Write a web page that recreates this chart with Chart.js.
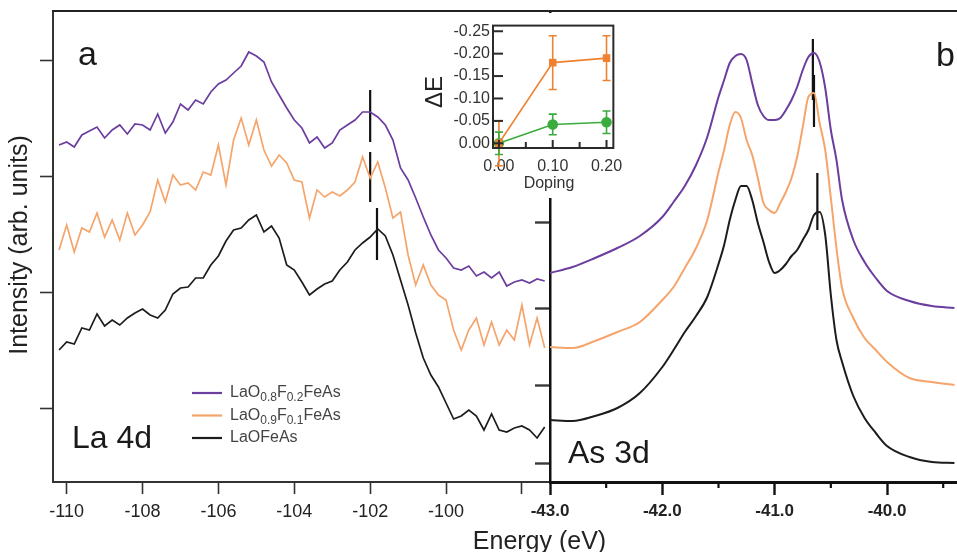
<!DOCTYPE html>
<html>
<head>
<meta charset="utf-8">
<script src="https://cdn.jsdelivr.net/npm/chart.js@4.4.1/dist/chart.umd.min.js"></script>
<style>
  html, body { margin: 0; padding: 0; background: #fff; }
  #wrap { position: relative; width: 957px; height: 552px; overflow: hidden; background: #fff; }
  canvas { position: absolute; }
  #cA { left: 0; top: 0; }
  #cB { left: 440px; top: 0; }
  #cC { left: 422px; top: 13px; background: #fff; }
</style>
</head>
<body>
<div id="wrap">
  <canvas id="cA" width="560" height="552"></canvas>
  <canvas id="cB" width="517" height="552"></canvas>
  <canvas id="cC" width="210" height="185"></canvas>
</div>
<script>
// === Data: panel a (La 4d) ===
const energyA = [-110.2,-110.0,-109.8,-109.6,-109.4,-109.2,-109.0,-108.8,-108.6,-108.4,-108.2,-108.0,-107.8,-107.6,-107.4,-107.2,-107.0,-106.8,-106.6,-106.4,-106.2,-106.0,-105.8,-105.6,-105.4,-105.2,-105.0,-104.8,-104.6,-104.4,-104.2,-104.0,-103.8,-103.6,-103.4,-103.2,-103.0,-102.8,-102.6,-102.4,-102.2,-102.0,-101.8,-101.6,-101.4,-101.2,-101.0,-100.8,-100.6,-100.4,-100.2,-100.0,-99.8,-99.6,-99.4,-99.2,-99.0,-98.8,-98.6,-98.4,-98.2,-98.0,-97.8,-97.6,-97.4];
const purpleA = [337,340,335,347,351,355,344,352,357,348,358,357,352,368,349,360,378,372,382,378,390,398,402,409,416,430,426,420,400,387,374,362,354,339,345,334,339,352,357,362,370,370,365,357,342,314,302,284,265,247,232,224,214,212,216,206,210,204,210,196,200,202,199,203,201];
const orangeA = [232,257,230,254,250,269,245,262,242,269,247,257,270,302,280,307,297,299,292,310,307,337,297,342,364,337,362,332,316,327,319,302,300,264,292,285,290,286,292,300,325,304,320,294,264,270,227,197,217,197,187,182,152,132,152,164,137,160,137,152,142,177,137,164,134];
const blackA = [132,140,138,154,152,168,156,162,157,164,169,173,167,164,172,188,194,195,204,204,217,226,241,252,254,262,267,250,256,244,217,212,200,187,193,198,201,212,220,232,239,245,253,246,227,202,177,149,124,107,95,79,63,66,72,66,52,68,52,50,54,56,52,44,55];
const markerEA = [-102.0, -102.0, -101.82];
const markerLoA = [340, 280, 222];
const markerHiA = [392, 330, 274];
const xTicksA = [-110, -108, -106, -104, -102, -100, -98];
const xLabelsA = ["-110", "-108", "-106", "-104", "-102", "-100", ""];
const yTicksA = [74, 190, 306, 421];

// === Data: panel b (As 3d) ===
const energyB = [-43.0,-42.8,-42.6,-42.4,-42.2,-42.0,-41.9,-41.8,-41.7,-41.6,-41.5,-41.45,-41.4,-41.35,-41.3,-41.25,-41.2,-41.15,-41.1,-41.05,-41.0,-40.95,-40.9,-40.85,-40.8,-40.75,-40.7,-40.65,-40.6,-40.55,-40.5,-40.45,-40.4,-40.3,-40.2,-40.1,-40.0,-39.8,-39.6,-39.4];
const purpleB = [209,215,224,234,246,265,280,296,317,345,385,402,419,426,428,422,399,377,366,362,362,364,372,382,395,412,425,429,420,394,352,322,282,242,220,204,191,181,176,174];
const orangeB = [135,134,141,150,160,182,195,214,234,262,310,332,357,370,364,342,327,304,279,272,269,279,290,304,325,355,385,389,359,332,284,234,194,164,144,132,120,104,100,97];
const blackB = [62,61,66,74,89,115,132,150,166,185,218,237,262,282,296,296,282,259,240,220,209,212,218,226,232,242,252,267,270,247,187,142,120,86,64,49,36,25,20,19];
const markerEB = [-40.66, -40.65, -40.62];
const markerLoB = [382, 355, 252];
const markerHiB = [443, 407, 309];
const xTicksB = [-43, -42, -41, -40];
const xLabelsB = ["-43.0", "-42.0", "-41.0", "-40.0"];
const xMinorB = [-42.5, -41.5, -40.5, -39.5];
const yTicksB = [19, 97, 174, 260];

// === Data: inset (shift vs doping) ===
const doping = [0.0, 0.1, 0.2];
const shiftOrange = [0.0, -0.18, -0.19];
const errOrange = [0.05, 0.06, 0.05];
const shiftGreen = [0.0, -0.042, -0.047];
const errGreen = [0.025, 0.023, 0.025];
const yTicksC = [-0.25, -0.2, -0.15, -0.1, -0.05, 0];
const xTicksC = [0, 0.1, 0.2];
const xLabelsC = ["0.00", "0.10", "0.20"];
const xMinorC = [0.05, 0.15];

const labels = ["LaO_{0.8}F_{0.2}FeAs", "LaO_{0.9}F_{0.1}FeAs", "LaOFeAs"];

const PURPLE = "#6b3d9e";
const ORANGE = "#f5a56c";
const BLACK = "#1c1c1c";
const ORANGE_I = "#ef8230";
const GREEN_I = "#3aab3c";
const FONT = "'Liberation Sans', Arial, Helvetica, sans-serif";

Chart.defaults.font.family = FONT;
Chart.defaults.color = "#222";

const pts = (xs, ys) => xs.map((x, i) => ({ x, y: ys[i] }));

function curve(xs, ys, color, label, width, smooth) {
  const ds = { label, data: pts(xs, ys), borderColor: color, backgroundColor: color,
    borderWidth: width, pointRadius: 0, showLine: true, tension: 0 };
  if (smooth) ds.cubicInterpolationMode = "monotone";
  return ds;
}

function markers(es, los, his) {
  return es.map((e, i) => ({ label: "", data: [{ x: e, y: los[i] }, { x: e, y: his[i] }],
    borderColor: "#111", borderWidth: 2.2, pointRadius: 0, showLine: true }));
}

// text with _{sub} parts
function drawRich(ctx, str, x, y, size) {
  const parts = str.split(/_\{([^}]*)\}/);
  parts.forEach((p, i) => {
    const sub = i % 2 === 1;
    ctx.font = (sub ? Math.round(size * 0.75) : size) + "px " + FONT;
    ctx.fillText(p, x, sub ? y + size * 0.3 : y);
    x += ctx.measureText(p).width;
  });
}

// === Decorations: frame lines, extra ticks, error bars, texts, legend ===
const decor = {
  id: "decor",
  beforeDatasetsDraw(chart, args, opts) {
    const ctx = chart.ctx;
    (opts.errors || []).forEach((eb) => {
      const ds = chart.data.datasets[eb.ds];
      const xs = chart.scales.x, ys = chart.scales.y;
      ctx.save();
      ctx.strokeStyle = ds.borderColor;
      ctx.lineWidth = 1.6;
      ds.data.forEach((p, i) => {
        const px = xs.getPixelForValue(p.x);
        const y1 = ys.getPixelForValue(p.y - eb.err[i]);
        const y2 = ys.getPixelForValue(p.y + eb.err[i]);
        ctx.beginPath();
        ctx.moveTo(px, y1); ctx.lineTo(px, y2);
        ctx.moveTo(px - 4, y1); ctx.lineTo(px + 4, y1);
        ctx.moveTo(px - 4, y2); ctx.lineTo(px + 4, y2);
        ctx.stroke();
      });
      ctx.restore();
    });
  },
  afterDraw(chart, args, opts) {
    const ctx = chart.ctx, a = chart.chartArea;
    ctx.save();
    if (opts.topLine) {
      ctx.strokeStyle = "#222"; ctx.lineWidth = 2;
      ctx.beginPath(); ctx.moveTo(a.left - 1, a.top); ctx.lineTo(a.right, a.top); ctx.stroke();
    }
    if (opts.box) {
      ctx.strokeStyle = "#2a2a2a"; ctx.lineWidth = 2;
      ctx.strokeRect(a.left, a.top, a.right - a.left, a.bottom - a.top);
    }
    (opts.ticks || []).forEach((t) => {
      const sc = chart.scales[t.axis];
      ctx.strokeStyle = t.color; ctx.lineWidth = t.width;
      t.values.forEach((v) => {
        const p = sc.getPixelForValue(v);
        ctx.beginPath();
        if (t.axis === "x") {
          const y0 = a.bottom;
          ctx.moveTo(p, y0); ctx.lineTo(p, t.inward ? y0 - t.len : y0 + t.len);
        } else {
          ctx.moveTo(a.left, p); ctx.lineTo(a.left + t.len, p);
        }
        ctx.stroke();
      });
    });
    (opts.texts || []).forEach((t) => {
      ctx.save();
      ctx.fillStyle = t.color || "#1a1a1a";
      ctx.font = (t.weight || "normal") + " " + t.size + "px " + FONT;
      ctx.textAlign = t.align || "left";
      ctx.textBaseline = t.baseline || "alphabetic";
      ctx.translate(t.x, t.y);
      if (t.rot) ctx.rotate(t.rot * Math.PI / 180);
      ctx.fillText(t.text, 0, 0);
      ctx.restore();
    });
    if (opts.legend) {
      const lg = opts.legend;
      ctx.textBaseline = "middle";
      ctx.textAlign = "left";
      chart.data.datasets.slice(0, 3).forEach((ds, i) => {
        const y = lg.y + i * lg.dy;
        ctx.strokeStyle = ds.borderColor; ctx.lineWidth = 2.2;
        ctx.beginPath(); ctx.moveTo(lg.x, y); ctx.lineTo(lg.x + lg.len, y); ctx.stroke();
        ctx.fillStyle = "#444";
        drawRich(ctx, ds.label, lg.x + lg.len + 8, y, lg.size);
      });
    }
    ctx.restore();
  }
};
Chart.register(decor);

const common = {
  responsive: false,
  animation: false,
  events: [],
};

// === Panel a ===
new Chart(document.getElementById("cA"), {
  type: "scatter",
  data: {
    datasets: [
      curve(energyA, purpleA, PURPLE, labels[0], 1.7),
      curve(energyA, orangeA, ORANGE, labels[1], 1.7),
      curve(energyA, blackA, BLACK, labels[2], 1.7),
      ...markers(markerEA, markerLoA, markerHiA),
    ],
  },
  options: {
    ...common,
    layout: { padding: { left: 0, right: 10, top: 11, bottom: 0 } },
    plugins: {
      legend: { display: false },
      tooltip: { enabled: false },
      decor: {
        topLine: true,
        legend: { x: 192, y: 393, dy: 22.5, len: 30, size: 16 },
        texts: [
          { text: "a", x: 78, y: 65, size: 34 },
          { text: "La 4d", x: 72, y: 448, size: 32 },
          { text: "Intensity (arb. units)", x: 27, y: 245, size: 25, rot: -90, align: "center", color: "#222" },
        ],
      },
    },
    scales: {
      x: {
        type: "linear", min: -110.36, max: -97.26,
        afterBuildTicks: (s) => { s.ticks = xTicksA.map((v) => ({ value: v })); },
        afterFit: (s) => { s.height = 70; },
        grid: { drawOnChartArea: false, tickLength: 12, tickWidth: 1.6, tickColor: "#333" },
        border: { color: "#333", width: 2 },
        ticks: { autoSkip: false, maxRotation: 0, padding: 7, font: { size: 18 }, color: "#222",
          callback: (v, i) => xLabelsA[i] },
      },
      y: {
        type: "linear", min: 0, max: 471,
        afterBuildTicks: (s) => { s.ticks = yTicksA.map((v) => ({ value: v })); },
        afterFit: (s) => { s.width = 53; },
        grid: { drawOnChartArea: false, tickLength: 13, tickWidth: 1.6, tickColor: "#333" },
        border: { color: "#333", width: 2 },
        ticks: { display: false },
      },
    },
  },
});

// === Panel b ===
new Chart(document.getElementById("cB"), {
  type: "scatter",
  data: {
    datasets: [
      curve(energyB, purpleB, PURPLE, labels[0], 2, true),
      curve(energyB, orangeB, ORANGE, labels[1], 2, true),
      curve(energyB, blackB, BLACK, labels[2], 2, true),
      ...markers(markerEB, markerLoB, markerHiB),
    ],
  },
  options: {
    ...common,
    layout: { padding: { left: 0, right: 0, top: 11, bottom: 0 } },
    plugins: {
      legend: { display: false },
      tooltip: { enabled: false },
      decor: {
        topLine: true,
        ticks: [{ axis: "x", values: xMinorB, len: 6, width: 2.2, color: "#111", inward: false }],
        texts: [
          { text: "b", x: 496, y: 66, size: 34 },
          { text: "As 3d", x: 128, y: 463, size: 32 },
          { text: "Energy (eV)", x: 99.5, y: 549, size: 25, align: "center", color: "#222" },
        ],
      },
    },
    scales: {
      x: {
        type: "linear", min: -43.0, max: -39.377,
        afterBuildTicks: (s) => { s.ticks = xTicksB.map((v) => ({ value: v })); },
        afterFit: (s) => { s.height = 70; },
        grid: { drawOnChartArea: false, tickLength: 13, tickWidth: 2.4, tickColor: "#111" },
        border: { color: "#111", width: 3 },
        ticks: { autoSkip: false, maxRotation: 0, padding: 6, font: { size: 17, weight: "bold" }, color: "#222",
          callback: (v, i) => xLabelsB[i] },
      },
      y: {
        type: "linear", min: 0, max: 471,
        afterBuildTicks: (s) => { s.ticks = yTicksB.map((v) => ({ value: v })); },
        afterFit: (s) => { s.width = 110; },
        grid: { drawOnChartArea: false, tickLength: 15, tickWidth: 2.4, tickColor: "#3a3a3a" },
        border: { color: "#111", width: 2.5 },
        ticks: { display: false },
      },
    },
  },
});

// === Inset ===
new Chart(document.getElementById("cC"), {
  type: "scatter",
  data: {
    datasets: [
      { label: "orange", data: pts(doping, shiftOrange), borderColor: ORANGE_I, backgroundColor: ORANGE_I,
        borderWidth: 1.6, showLine: true, pointStyle: "rect", pointRadius: 4.2, clip: false },
      { label: "green", data: pts(doping, shiftGreen), borderColor: GREEN_I, backgroundColor: GREEN_I,
        borderWidth: 1.6, showLine: true, pointStyle: "circle", pointRadius: 4.5, clip: false },
    ],
  },
  options: {
    ...common,
    layout: { padding: { left: 0, right: 16, top: 5, bottom: 0 } },
    plugins: {
      legend: { display: false },
      tooltip: { enabled: false },
      decor: {
        box: true,
        errors: [{ ds: 0, err: errOrange }, { ds: 1, err: errGreen }],
        ticks: [
          { axis: "y", values: yTicksC, len: 10, width: 2, color: "#2a2a2a" },
          { axis: "x", values: xTicksC, len: 8, width: 2, color: "#2a2a2a", inward: true },
          { axis: "x", values: xMinorC, len: 6, width: 2, color: "#2a2a2a", inward: true },
        ],
        texts: [
          { text: "ΔE", x: 13.5, y: 79, size: 24, rot: -90, align: "center", baseline: "middle", color: "#222" },
          { text: "Doping", x: 127, y: 171, size: 16, align: "center", baseline: "middle", color: "#333" },
        ],
      },
    },
    scales: {
      x: {
        type: "linear", min: -0.011, max: 0.2127,
        afterBuildTicks: (s) => { s.ticks = xTicksC.map((v) => ({ value: v })); },
        afterFit: (s) => { s.height = 50; },
        grid: { display: false, drawTicks: false },
        border: { display: false },
        ticks: { autoSkip: false, maxRotation: 0, padding: 9, font: { size: 16 }, color: "#333",
          callback: (v, i) => xLabelsC[i] },
      },
      y: {
        type: "linear", reverse: true, min: -0.2626, max: 0.0105,
        afterBuildTicks: (s) => { s.ticks = yTicksC.map((v) => ({ value: v })); },
        afterFit: (s) => { s.width = 71; },
        grid: { display: false, drawTicks: false },
        border: { display: false },
        ticks: { autoSkip: false, padding: 3, font: { size: 16 }, color: "#333",
          callback: (v) => Number(v).toFixed(2) },
      },
    },
  },
});
</script>
</body>
</html>
